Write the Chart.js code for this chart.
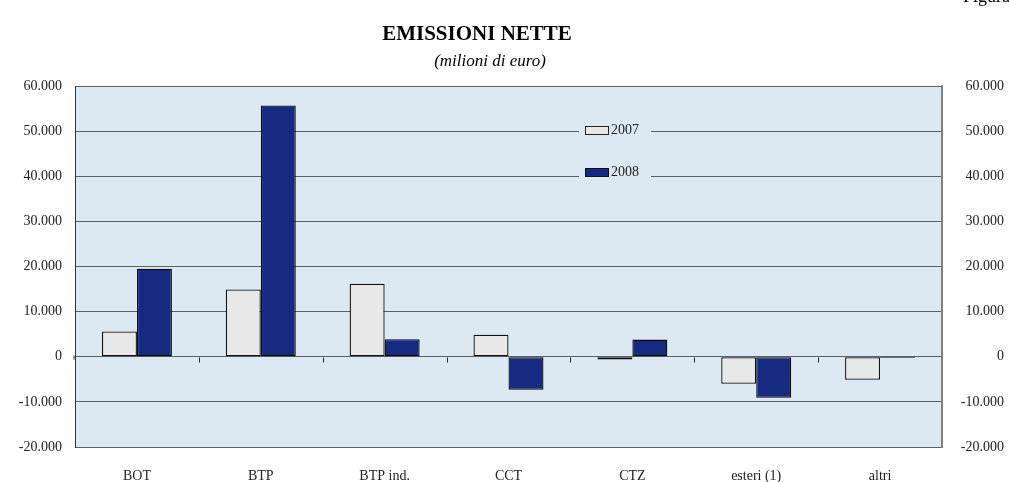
<!DOCTYPE html>
<html>
<head>
<meta charset="utf-8">
<script src="https://cdn.jsdelivr.net/npm/chart.js@4.4.1/dist/chart.umd.min.js"></script>
<style>
  html, body { margin: 0; padding: 0; background: #fff; }
  #box { width: 1009px; height: 482px; position: relative; }
</style>
</head>
<body>
<div id="box"><canvas id="grafica"></canvas></div>
<script>
// dati
const categorie = ["BOT", "BTP", "BTP ind.", "CCT", "CTZ", "esteri (1)", "altri"];
const anni = ["2007", "2008"];
const valori2007 = [5600, 14900, 16200, 4900, -600, -6000, -5100];
const valori2008 = [19500, 55700, 3900, -7300, 3800, -9100, -300];
const titolo = "EMISSIONI NETTE";
const sottotitolo = "(milioni di euro)";
const figura = "Figura 1";

const sfondo = "#dde9f2";
const serif = "'Liberation Serif', 'DejaVu Serif', serif";

// separatore migliaia con il punto
const formatta = (v) => {
    const s = Math.abs(v).toString().replace(/\B(?=(\d{3})+(?!\d))/g, ".");
    return (v < 0 ? "-" : "") + s;
};

// sfondo dell'area del grafico + titoli
const decorazioni = {
    id: "decorazioni",
    beforeDraw(chart) {
        const { ctx, chartArea: a } = chart;
        ctx.save();
        ctx.fillStyle = sfondo;
        ctx.fillRect(a.left, a.top, a.right - a.left, a.bottom - a.top);
        ctx.fillStyle = "#000";
        ctx.textAlign = "center";
        ctx.textBaseline = "alphabetic";
        ctx.font = "bold 21px " + serif;
        ctx.fillText(titolo, 477, 40);
        ctx.font = "italic 17px " + serif;
        ctx.fillText(sottotitolo, 490, 66);
        ctx.textAlign = "left";
        ctx.font = "18px " + serif;
        ctx.fillText(figura, 963, 2);
        ctx.restore();
    },
    afterDatasetsDraw(chart) {
        const { ctx, chartArea: a, scales } = chart;
        const x = scales.x, y = scales.y;
        const y0 = Math.round(y.getPixelForValue(0)) + 0.5;
        ctx.save();
        // tacche sull'asse dello zero
        ctx.strokeStyle = "#222";
        ctx.lineWidth = 1;
        ctx.beginPath();
        for (let i = 1; i < categorie.length; i++) {
            const px = Math.round(x.getPixelForValue(i - 0.5)) + 0.5;
            ctx.moveTo(px, y0);
            ctx.lineTo(px, y0 + 5);
        }
        ctx.moveTo(a.left - 1, y0 - 2);
        ctx.lineTo(a.left - 1, y0 + 2);
        ctx.stroke();

        // legenda dentro l'area
        const lx = 583, ly = [130, 172];
        const colori = [["#e8e8e8", "#222"], ["#152a80", "#111"]];
        ctx.font = "14px " + serif;
        ctx.textBaseline = "middle";
        anni.forEach((anno, i) => {
            ctx.fillStyle = sfondo;
            ctx.fillRect(lx - 4, ly[i] - 8, 72, 16);
            ctx.fillStyle = colori[i][0];
            ctx.fillRect(lx + 2, ly[i] - 4, 23, 8);
            ctx.strokeStyle = colori[i][1];
            ctx.strokeRect(lx + 2.5, ly[i] - 3.5, 23, 8);
            ctx.fillStyle = "#222";
            ctx.textAlign = "left";
            ctx.fillText(anno, lx + 28, ly[i]);
        });
        ctx.restore();
    }
};

const $grafica = document.querySelector("#grafica");

new Chart($grafica, {
    type: "bar",
    data: {
        labels: categorie,
        datasets: [
            {
                label: anni[0],
                data: valori2007,
                backgroundColor: "#e8e8e8",
                borderColor: "#111",
                borderWidth: 1.3,
                borderSkipped: false
            },
            {
                label: anni[1],
                data: valori2008,
                backgroundColor: "#152a80",
                borderColor: "#0a0a0a",
                borderWidth: 1.3,
                borderSkipped: false
            }
        ]
    },
    options: {
        responsive: true,
        maintainAspectRatio: false,
        animation: false,
        layout: { padding: { top: 86, right: 5, left: 0, bottom: 0 } },
        datasets: {
            bar: { categoryPercentage: 0.565, barPercentage: 1.0 }
        },
        plugins: {
            legend: { display: false },
            tooltip: { enabled: false }
        },
        scales: {
            x: {
                grid: { display: false },
                border: { display: false },
                ticks: {
                    color: "#222",
                    font: { family: serif, size: 14 },
                    padding: 13,
                    maxRotation: 0
                },
                afterFit(scale) { scale.height = 35; }
            },
            y: {
                position: "left",
                min: -20000,
                max: 60000,
                grid: { color: "#5a5f63", lineWidth: 1, drawTicks: false },
                border: { display: true, color: "#333", width: 1 },
                ticks: {
                    stepSize: 10000,
                    color: "#222",
                    padding: 13,
                    font: { family: serif, size: 14 },
                    callback: (v) => formatta(v)
                },
                afterFit(scale) { scale.width = 75; }
            },
            y2: {
                position: "right",
                min: -20000,
                max: 60000,
                grid: { display: false, drawTicks: false },
                border: { display: true, color: "#7d8286", width: 2 },
                ticks: {
                    stepSize: 10000,
                    color: "#222",
                    padding: 8,
                    crossAlign: "far",
                    font: { family: serif, size: 14 },
                    callback: (v) => formatta(v)
                },
                afterFit(scale) { scale.width = 62; }
            }
        }
    },
    plugins: [decorazioni]
});
</script>
</body>
</html>
